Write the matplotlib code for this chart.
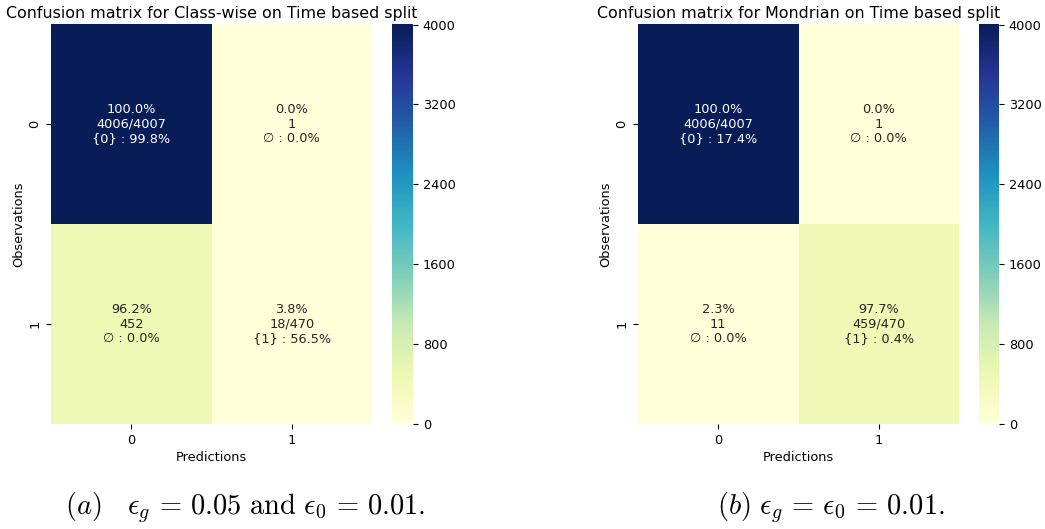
import numpy as np
import matplotlib
matplotlib.use("Agg")
import matplotlib.pyplot as plt
import seaborn as sns

# Confusion matrices (rows: observations, columns: predictions)
labels = ["0", "1"]
counts_classwise = [[4006, 1], [452, 18]]
counts_mondrian = [[4006, 1], [11, 459]]

# Prediction-set coverage shown on the third line of each cell
sets_classwise = [["{0} : 99.8%", "\u2205 : 0.0%"], ["\u2205 : 0.0%", "{1} : 56.5%"]]
sets_mondrian = [["{0} : 17.4%", "\u2205 : 0.0%"], ["\u2205 : 0.0%", "{1} : 0.4%"]]

titles = ["Confusion matrix for Class-wise on Time based split",
          "Confusion matrix for Mondrian on Time based split"]
captions = [r"$(a)\ \ \ \epsilon_g \,=\, 0.05\ \mathrm{and}\ \epsilon_0 \,=\, 0.01.$",
            r"$(b)\ \epsilon_g \,=\, \epsilon_0 \,=\, 0.01.$"]
cbar_ticks = [0, 800, 1600, 2400, 3200, 4000]

plt.rcParams["mathtext.fontset"] = "cm"
plt.rcParams["font.family"] = ["DejaVu Sans"]

W, H = 1045, 529
fig = plt.figure(figsize=(W / 100, H / 100), dpi=100)


def px_axes(x0, y0, x1, y1):
    return fig.add_axes([x0 / W, 1 - y1 / H, (x1 - x0) / W, (y1 - y0) / H])


def cell_text(counts, sets):
    c = np.array(counts)
    out = []
    for i in range(2):
        row = []
        tot = c[i].sum()
        for j in range(2):
            pct = 100.0 * c[i, j] / tot
            second = f"{c[i, j]}/{tot}" if i == j else f"{c[i, j]}"
            row.append(f"{pct:.1f}%\n{second}\n{sets[i][j]}")
        out.append(row)
    return out


panels = [
    (counts_classwise, sets_classwise, (51, 24, 372, 424), (392, 24, 413, 424), 245),
    (counts_mondrian, sets_mondrian, (638, 24, 959, 424), (979, 24, 999, 424), 831),
]

fs = 9.3
for k, (counts, sets, axbox, cbbox, capx) in enumerate(panels):
    ax = px_axes(*axbox)
    cax = px_axes(*cbbox)
    data = np.array(counts)
    vmax = data.max()
    sns.heatmap(data, ax=ax, cbar_ax=cax, cmap="YlGnBu", vmin=0, vmax=vmax,
                annot=False, xticklabels=labels, yticklabels=labels)
    txt = cell_text(counts, sets)
    for i in range(2):
        for j in range(2):
            color = "w" if data[i, j] > vmax / 2 else ".15"
            ax.text(j + 0.5, i + 0.5, txt[i][j], ha="center", va="center",
                    fontsize=fs, color=color, linespacing=1.15)
    ax.set_title(titles[k], fontsize=11.4, pad=4)
    ax.set_xlabel("Predictions", fontsize=fs, labelpad=3)
    ax.set_ylabel("Observations", fontsize=fs, labelpad=2)
    ax.tick_params(labelsize=fs)
    cax.set_yticks(cbar_ticks)
    cax.tick_params(labelsize=fs)
    fig.text(capx / W, 1 - 508 / H, captions[k], ha="center", va="center",
             fontsize=20.5)

fig.savefig("out.png", dpi=100)
